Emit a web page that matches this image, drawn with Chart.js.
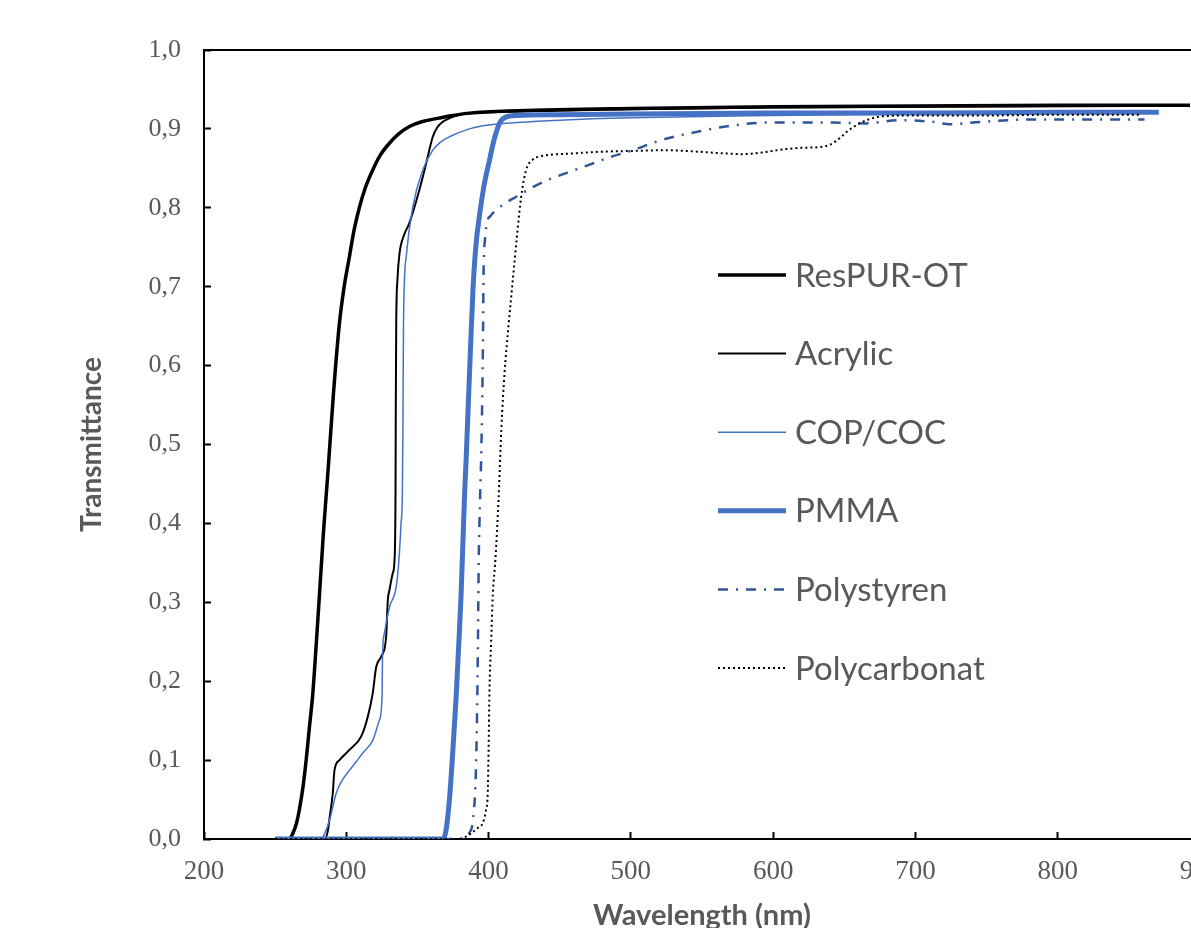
<!DOCTYPE html>
<html>
<head>
<meta charset="utf-8">
<script src="https://cdn.jsdelivr.net/npm/chart.js@4/dist/chart.umd.min.js"></script>
<style>
  html, body { margin: 0; padding: 0; background: #fff; overflow: hidden; }
  #wrap { width: 1191px; height: 928px; overflow: hidden; }
  canvas { display: block; }
</style>
</head>
<body>
<div id="wrap"><canvas id="chart" width="1230" height="940"></canvas></div>
<script>
// wavelength (nm) / transmittance
var respurNm = [250, 260, 262.4, 265, 267, 269.5, 271.8, 274, 276.5, 279, 281.2, 284, 287.3, 291, 295.2, 298.5, 302.2, 305.5, 309.3, 313.5, 318.6, 324, 330.4, 337, 344.4, 353, 363.2, 375, 386.6, 420, 500, 600, 700, 800, 893];
var respurT  = [0, 0, 0.007, 0.02, 0.037, 0.065, 0.10, 0.14, 0.185, 0.25, 0.311, 0.39, 0.47, 0.565, 0.654, 0.70, 0.738, 0.772, 0.801, 0.826, 0.848, 0.867, 0.882, 0.894, 0.903, 0.909, 0.913, 0.917, 0.920, 0.923, 0.926, 0.928, 0.929, 0.930, 0.930];

var acrylicNm = [250, 284.6, 287, 288.5, 290.5, 291.7, 295.2, 302.2, 310.5, 315.1, 318.6, 321, 324.5, 328, 329.2, 330.4, 332.7, 333.9, 334.6, 334.8, 335.1, 336, 337.4, 340.5, 344.4, 351.4, 356.1, 360.8, 364, 367.8, 373, 379.5, 390, 420, 500, 600, 700, 853];
var acrylicT  = [0, 0, 0.01, 0.03, 0.058, 0.087, 0.10, 0.113, 0.13, 0.155, 0.185, 0.218, 0.231, 0.256, 0.303, 0.316, 0.337, 0.354, 0.438, 0.55, 0.653, 0.71, 0.742, 0.765, 0.781, 0.823, 0.856, 0.89, 0.902, 0.909, 0.914, 0.918, 0.920, 0.922, 0.925, 0.927, 0.928, 0.929];

var copNm = [250, 282.4, 285, 288.3, 292.9, 297, 302.2, 307, 311.6, 318.6, 323.3, 325.2, 325.4, 326.8, 330.4, 335.1, 337, 338.5, 339.4, 339.8, 340.2, 342.1, 346.7, 353.8, 360.8, 366, 372.5, 386.6, 400, 420, 450, 500, 600, 700, 800, 871];
var copT  = [0, 0, 0.008, 0.024, 0.058, 0.074, 0.087, 0.098, 0.109, 0.125, 0.151, 0.185, 0.227, 0.261, 0.294, 0.32, 0.354, 0.40, 0.438, 0.52, 0.653, 0.738, 0.801, 0.848, 0.873, 0.883, 0.89, 0.90, 0.905, 0.908, 0.911, 0.914, 0.917, 0.919, 0.920, 0.921];

var pmmaNm = [250, 368, 370, 372.5, 375, 377.2, 379, 380.7, 383.1, 384.2, 386.6, 389, 391, 393.6, 397, 400.6, 404, 407.7, 412, 420, 450, 500, 600, 700, 800, 871];
var pmmaT  = [0, 0, 0.01, 0.05, 0.115, 0.18, 0.245, 0.31, 0.435, 0.48, 0.59, 0.695, 0.75, 0.79, 0.83, 0.86, 0.887, 0.907, 0.915, 0.917, 0.918, 0.919, 0.92, 0.92, 0.921, 0.921];

var psNm = [250, 383, 386.6, 389, 391.3, 392.4, 393.1, 394, 395, 396, 396.5, 397.5, 399, 401.5, 405.3, 412, 419.4, 430, 440, 454.5, 470, 485, 501.3, 520, 548.3, 570, 595, 620, 642, 665, 689, 712, 724, 747, 782, 829, 861];
var psT  = [0, 0, 0.008, 0.024, 0.1, 0.227, 0.354, 0.43, 0.50, 0.62, 0.72, 0.76, 0.782, 0.79, 0.797, 0.806, 0.814, 0.825, 0.834, 0.844, 0.854, 0.864, 0.873, 0.885, 0.897, 0.904, 0.908, 0.908, 0.908, 0.907, 0.911, 0.909, 0.906, 0.909, 0.912, 0.912, 0.912];

var pcNm = [250, 377, 383, 389, 393, 395.9, 398, 399.4, 400, 400.6, 401.8, 403, 404.8, 407, 409, 411.2, 414, 417, 420, 422.9, 426.4, 431, 435.8, 442.8, 460, 478, 500, 524.8, 548.2, 565, 578.6, 592, 606.7, 620, 632.5, 640, 646.6, 653, 660.7, 667, 677, 700, 750, 800, 859];
var pcT  = [0, 0, 0.002, 0.009, 0.015, 0.02, 0.035, 0.058, 0.11, 0.185, 0.25, 0.31, 0.354, 0.43, 0.52, 0.59, 0.65, 0.708, 0.765, 0.814, 0.848, 0.861, 0.865, 0.867, 0.869, 0.871, 0.872, 0.873, 0.871, 0.869, 0.868, 0.87, 0.874, 0.876, 0.877, 0.88, 0.888, 0.898, 0.907, 0.912, 0.916, 0.917, 0.917, 0.918, 0.918];

var seriesNames = ["ResPUR-OT", "Acrylic", "COP/COC", "PMMA", "Polystyren", "Polycarbonat"];
var xTicks = [200, 300, 400, 500, 600, 700, 800, 900];

function pts(xs, ys) {
  return xs.map(function (x, i) { return { x: x, y: ys[i] }; });
}

var grey = "#595959";

// draws the top / right frame of the plot box
var framePlugin = {
  id: "frame",
  beforeDatasetsDraw: function (chart) {
    var a = chart.chartArea, ctx = chart.ctx;
    ctx.save();
    ctx.strokeStyle = "#000";
    ctx.lineWidth = 2;
    ctx.beginPath();
    ctx.moveTo(a.left, a.top);
    ctx.lineTo(a.right, a.top);
    ctx.lineTo(a.right, a.bottom);
    ctx.stroke();
    ctx.restore();
  }
};

// legend inside the plot, like the Excel one
var legendPlugin = {
  id: "innerLegend",
  afterDraw: function (chart) {
    var ctx = chart.ctx;
    var x0 = 718, x1 = 786, tx = 795, y = 275, step = 78.6;
    ctx.save();
    chart.data.datasets.forEach(function (ds, i) {
      var yy = y + i * step;
      ctx.strokeStyle = ds.borderColor;
      ctx.lineWidth = ds.borderWidth;
      ctx.setLineDash(ds.borderDash || []);
      ctx.beginPath();
      ctx.moveTo(x0, yy);
      ctx.lineTo(x1, yy);
      ctx.stroke();
      ctx.setLineDash([]);
      ctx.fillStyle = grey;
      ctx.font = "33px Lato";
      ctx.textBaseline = "middle";
      ctx.textAlign = "left";
      ctx.fillText(ds.label, tx, yy + 1);
    });
    ctx.restore();
  }
};

var ctx = document.getElementById("chart").getContext("2d");
var myChart = new Chart(ctx, {
  type: "line",
  data: {
    datasets: [
      { label: seriesNames[0], data: pts(respurNm, respurT), borderColor: "#000000", borderWidth: 3.5, order: 5 },
      { label: seriesNames[1], data: pts(acrylicNm, acrylicT), borderColor: "#000000", borderWidth: 2, order: 4 },
      { label: seriesNames[2], data: pts(copNm, copT), borderColor: "#4472C4", borderWidth: 1.5, order: 3 },
      { label: seriesNames[3], data: pts(pmmaNm, pmmaT), borderColor: "#4472C4", borderWidth: 5, order: 2 },
      { label: seriesNames[4], data: pts(psNm, psT), borderColor: "#2F5597", borderWidth: 2.5, borderDash: [10, 8, 2, 8], order: 1 },
      { label: seriesNames[5], data: pts(pcNm, pcT), borderColor: "#000000", borderWidth: 2, borderDash: [2, 3], order: 0 }
    ]
  },
  options: {
    responsive: false,
    animation: false,
    devicePixelRatio: 1,
    layout: { padding: { top: 50, right: 30, bottom: 0, left: 0 } },
    elements: {
      point: { radius: 0 },
      line: { cubicInterpolationMode: "monotone", fill: false }
    },
    plugins: {
      legend: { display: false },
      tooltip: { enabled: false }
    },
    scales: {
      x: {
        type: "linear",
        min: 200,
        max: 900,
        afterBuildTicks: function (scale) {
          scale.ticks = xTicks.map(function (v) { return { value: v }; });
        },
        afterFit: function (scale) {
          scale.height = 101;
          scale.paddingLeft = 0;
          scale.paddingRight = 0;
        },
        border: { display: true, color: "#000", width: 2 },
        grid: { drawOnChartArea: false, drawTicks: true, tickLength: -7, color: "#000", tickWidth: 2 },
        ticks: {
          autoSkip: false,
          maxRotation: 0,
          padding: 24,
          color: grey,
          font: { family: "'Liberation Serif', 'Times New Roman', serif", size: 27 }
        },
        title: {
          display: true,
          text: "Wavelength (nm)",
          color: grey,
          font: { family: "Lato", size: 29, weight: "bold" },
          padding: { top: 0, bottom: 7 }
        }
      },
      y: {
        min: 0,
        max: 1,
        afterFit: function (scale) { scale.width = 204; },
        border: { display: true, color: "#000", width: 2 },
        grid: { drawOnChartArea: false, drawTicks: true, tickLength: -7, color: "#000", tickWidth: 2 },
        ticks: {
          stepSize: 0.1,
          autoSkip: false,
          padding: 30,
          color: grey,
          font: { family: "'Liberation Serif', 'Times New Roman', serif", size: 26 },
          callback: function (v) { return v.toFixed(1).replace(".", ","); }
        },
        title: {
          display: true,
          text: "Transmittance",
          color: grey,
          font: { family: "Lato", size: 28, weight: "bold" },
          padding: { top: 75, bottom: 0 }
        }
      }
    }
  },
  plugins: [framePlugin, legendPlugin]
});
</script>
</body>
</html>
